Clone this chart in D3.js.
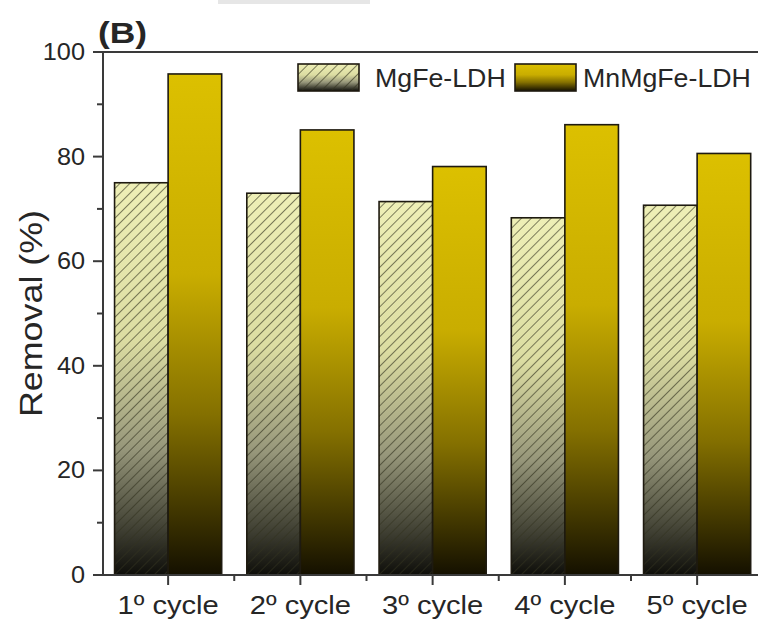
<!DOCTYPE html>
<html>
<head>
<meta charset="utf-8">
<script src="https://cdn.jsdelivr.net/npm/d3@7"></script>
<style>
  html, body { margin: 0; padding: 0; background: #fff; overflow: hidden; }
  text { font-family: 'Liberation Sans', Arial, sans-serif; fill: #262626; }
</style>
</head>
<body>
<div id="chart"></div>
<script>
// data
const cycles = ['1º cycle', '2º cycle', '3º cycle', '4º cycle', '5º cycle'];
const seriesNames = ['MgFe-LDH', 'MnMgFe-LDH'];
const mgfeValues = [75.0, 73.0, 71.4, 68.3, 70.7];
const mnmgfeValues = [95.8, 85.1, 78.1, 86.1, 80.6];
const yTicks = [0, 20, 40, 60, 80, 100];
const yMinorTicks = [10, 30, 50, 70, 90];

const width = 758;
const height = 621;
const stretch = 1.1; // text in the figure is a bit wider than plain Arial

const plot = { left: 102, top: 52, bottom: 575, step: 132.25 };

const svg = d3.select('#chart').append('svg')
  .attr('width', width)
  .attr('height', height);

const defs = svg.append('defs');

function addGradient(id, stops) {
  const g = defs.append('linearGradient')
    .attr('id', id)
    .attr('x1', 0).attr('y1', 0)
    .attr('x2', 0).attr('y2', 1);
  stops.forEach(s => g.append('stop').attr('offset', s[0]).attr('stop-color', s[1]));
}

addGradient('grad-mgfe', [[0, '#eeefb6'], [0.4, '#dcdda2'], [0.68, '#96967a'], [1, '#0e0e0a']]);
addGradient('grad-mnmgfe', [[0, '#dcc000'], [0.4, '#c9ad00'], [0.68, '#847000'], [1, '#141000']]);

const hatch = defs.append('pattern')
  .attr('id', 'hatch')
  .attr('patternUnits', 'userSpaceOnUse')
  .attr('width', 7)
  .attr('height', 7)
  .attr('patternTransform', 'rotate(45)');
hatch.append('line')
  .attr('x1', 0).attr('y1', 0)
  .attr('x2', 0).attr('y2', 7)
  .attr('stroke', '#33331f')
  .attr('stroke-opacity', 0.95)
  .attr('stroke-width', 1.3);

// scales
const x = d3.scaleBand()
  .domain(cycles)
  .range([plot.left, plot.left + plot.step * cycles.length])
  .paddingInner(0.19)
  .paddingOuter(0.095);

const xSeries = d3.scaleBand()
  .domain(seriesNames)
  .range([0, x.bandwidth()]);

const y = d3.scaleLinear()
  .domain([0, 100])
  .range([plot.bottom, plot.top]);

// faint strip at the very top of the source image
svg.append('rect')
  .attr('x', 218).attr('y', 0)
  .attr('width', 152).attr('height', 4)
  .attr('fill', '#e6e6e6');

// bars
const rows = cycles.map((c, i) => ({ cycle: c, values: [mgfeValues[i], mnmgfeValues[i]] }));

const groups = svg.append('g').selectAll('g')
  .data(rows)
  .join('g')
  .attr('transform', d => `translate(${x(d.cycle)},0)`);

groups.each(function(d) {
  const g = d3.select(this);
  d.values.forEach((v, j) => {
    const bx = xSeries(seriesNames[j]);
    const bw = xSeries.bandwidth();
    g.append('rect')
      .attr('x', bx).attr('y', y(v))
      .attr('width', bw).attr('height', y(0) - y(v))
      .attr('fill', j === 0 ? 'url(#grad-mgfe)' : 'url(#grad-mnmgfe)');
    if (j === 0) {
      g.append('rect')
        .attr('x', bx).attr('y', y(v))
        .attr('width', bw).attr('height', y(0) - y(v))
        .attr('fill', 'url(#hatch)');
    }
    g.append('rect')
      .attr('x', bx).attr('y', y(v))
      .attr('width', bw).attr('height', y(0) - y(v))
      .attr('fill', 'none')
      .attr('stroke', '#1e1a10')
      .attr('stroke-width', 1.6);
  });
});

// frame and axes
const axisColor = '#3a3a3a';
const axisX = plot.left + 1;

svg.append('line')
  .attr('x1', axisX).attr('y1', plot.top)
  .attr('x2', width).attr('y2', plot.top)
  .attr('stroke', axisColor).attr('stroke-width', 2);

svg.append('line')
  .attr('x1', axisX).attr('y1', plot.top - 1)
  .attr('x2', axisX).attr('y2', plot.bottom + 1)
  .attr('stroke', axisColor).attr('stroke-width', 2);

svg.append('line')
  .attr('x1', axisX - 10).attr('y1', plot.bottom)
  .attr('x2', width).attr('y2', plot.bottom)
  .attr('stroke', axisColor).attr('stroke-width', 2);

// y ticks
svg.append('g').selectAll('line')
  .data(yTicks)
  .join('line')
  .attr('x1', axisX - 10).attr('x2', axisX)
  .attr('y1', d => y(d)).attr('y2', d => y(d))
  .attr('stroke', axisColor).attr('stroke-width', 2);

svg.append('g').selectAll('line')
  .data(yMinorTicks)
  .join('line')
  .attr('x1', axisX - 6).attr('x2', axisX)
  .attr('y1', d => y(d)).attr('y2', d => y(d))
  .attr('stroke', axisColor).attr('stroke-width', 2);

svg.append('g').selectAll('text')
  .data(yTicks)
  .join('text')
  .attr('transform', d => `translate(${axisX - 18},${y(d) + 8}) scale(${stretch},1)`)
  .attr('text-anchor', 'end')
  .attr('font-size', 23)
  .text(d => d);

// x ticks
svg.append('g').selectAll('line')
  .data(cycles)
  .join('line')
  .attr('x1', d => x(d) + x.bandwidth() / 2)
  .attr('x2', d => x(d) + x.bandwidth() / 2)
  .attr('y1', plot.bottom).attr('y2', plot.bottom + 10)
  .attr('stroke', axisColor).attr('stroke-width', 2);

svg.append('g').selectAll('line')
  .data(d3.range(1, cycles.length))
  .join('line')
  .attr('x1', d => plot.left + d * x.step())
  .attr('x2', d => plot.left + d * x.step())
  .attr('y1', plot.bottom).attr('y2', plot.bottom + 6)
  .attr('stroke', axisColor).attr('stroke-width', 2);

svg.append('g').selectAll('text')
  .data(cycles)
  .join('text')
  .attr('transform', d => `translate(${x(d) + x.bandwidth() / 2},${plot.bottom + 39}) scale(${stretch},1)`)
  .attr('text-anchor', 'middle')
  .attr('font-size', 26.5)
  .text(d => d);

// y title
svg.append('text')
  .attr('transform', `translate(42,${(plot.top + plot.bottom) / 2}) rotate(-90) scale(1.12,1)`)
  .attr('text-anchor', 'middle')
  .attr('font-size', 32)
  .text('Removal (%)');

// panel label
svg.append('text')
  .attr('transform', `translate(98,43) scale(1.18,1)`)
  .attr('font-size', 30)
  .attr('font-weight', 'bold')
  .text('(B)');

// legend
const legend = [
  { name: seriesNames[0], x: 298, fill: 'url(#grad-mgfe)', hatched: true },
  { name: seriesNames[1], x: 515, fill: 'url(#grad-mnmgfe)', hatched: false }
];

const lg = svg.append('g').selectAll('g')
  .data(legend)
  .join('g')
  .attr('transform', d => `translate(${d.x},64)`);

lg.append('rect')
  .attr('width', 61).attr('height', 27)
  .attr('fill', d => d.fill);

lg.filter(d => d.hatched).append('rect')
  .attr('width', 61).attr('height', 27)
  .attr('fill', 'url(#hatch)');

lg.append('rect')
  .attr('width', 61).attr('height', 27)
  .attr('fill', 'none')
  .attr('stroke', '#1e1a10')
  .attr('stroke-width', 1.6);

lg.append('text')
  .attr('transform', d => `translate(${d.hatched ? 77 : 68},23) scale(1.07,1)`)
  .attr('font-size', 25)
  .text(d => d.name);
</script>
</body>
</html>
